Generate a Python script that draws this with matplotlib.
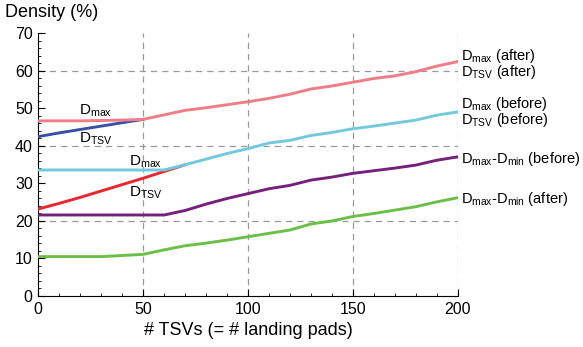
import matplotlib
matplotlib.use("Agg")
import matplotlib.pyplot as plt
from matplotlib.ticker import MultipleLocator

plt.rcParams['font.family'] = ['Liberation Sans', 'DejaVu Sans']
plt.rcParams['mathtext.fontset'] = 'custom'
plt.rcParams['mathtext.rm'] = 'Liberation Sans'
plt.rcParams['mathtext.it'] = 'Liberation Sans'

# number of TSVs
tsvs = [0, 10, 20, 30, 40, 50, 60, 70, 80, 90, 100, 110, 120, 130, 140, 150, 160, 170, 180, 190, 200]

dmax_after = [46.7, 46.7, 46.7, 46.8, 46.9, 47.1, 48.3, 49.5, 50.2, 51.0, 51.8,
              52.7, 53.8, 55.2, 56.0, 57.0, 58.0, 58.7, 59.8, 61.3, 62.5]
dtsv_after_x = [0, 10, 20, 30, 40, 50]
dtsv_after = [42.5, 43.5, 44.4, 45.3, 46.2, 47.1]

dmax_before = [33.6, 33.6, 33.6, 33.6, 33.6, 33.6, 33.6, 35.0, 36.5, 38.0, 39.3,
               40.8, 41.5, 42.8, 43.6, 44.6, 45.3, 46.1, 46.9, 48.2, 49.1]
dtsv_before_x = [0, 10, 20, 30, 40, 50, 60, 70]
dtsv_before = [23.2, 24.7, 26.3, 28.0, 29.7, 31.4, 33.2, 35.0]

spread_before = [21.6, 21.6, 21.6, 21.6, 21.6, 21.6, 21.6, 22.8, 24.5, 26.0, 27.3,
                 28.6, 29.5, 30.9, 31.7, 32.7, 33.4, 34.1, 34.9, 36.2, 37.1]
spread_after = [10.5, 10.5, 10.5, 10.5, 10.8, 11.1, 12.3, 13.4, 14.1, 14.9, 15.8,
                16.7, 17.6, 19.2, 20.0, 21.2, 22.0, 22.9, 23.8, 25.1, 26.2]

fig = plt.figure(figsize=(5.83, 3.47), dpi=100)
ax = fig.add_axes([0.0657, 0.147, 0.7194, 0.7565])

for v in [20, 40, 60]:
    ax.axhline(v, color='#999999', lw=0.9, ls=(0, (5, 4)), zorder=1)
for v in [50, 100, 150, 200]:
    ax.axvline(v, color='#999999', lw=0.9, ls=(0, (5, 4)), zorder=1)

lw = 2.1
ax.plot(dtsv_after_x, dtsv_after, color='#3a50a4', lw=lw, zorder=3)
ax.plot(tsvs, dmax_after, color='#ee7d87', lw=lw, zorder=4)
ax.plot(dtsv_before_x, dtsv_before, color='#e8262b', lw=lw, zorder=3)
ax.plot(tsvs, dmax_before, color='#72c9dc', lw=lw, zorder=4)
ax.plot(tsvs, spread_before, color='#74217c', lw=lw, zorder=3)
ax.plot(tsvs, spread_after, color='#6cbf46', lw=lw, zorder=3)

ax.set_xlim(0, 200)
ax.set_ylim(0, 70)
ax.xaxis.set_major_locator(MultipleLocator(50))
ax.xaxis.set_minor_locator(MultipleLocator(10))
ax.yaxis.set_major_locator(MultipleLocator(10))
ax.yaxis.set_minor_locator(MultipleLocator(2))
ax.tick_params(which='both', direction='in', labelsize=11.5, colors='black')
ax.tick_params(which='major', length=5, width=0.8)
ax.tick_params(which='minor', length=2.5, width=0.6)
ax.tick_params(axis='x', pad=4)
ax.tick_params(axis='y', pad=4)
for s in ['top', 'right']:
    ax.spines[s].set_visible(False)

fs = 11
ax.text(19.4, 48.3, r'$\mathrm{D_{max}}$', fontsize=fs, ha='left', va='baseline')
ax.text(19.4, 40.8, r'$\mathrm{D_{TSV}}$', fontsize=fs, ha='left', va='baseline')
ax.text(43.2, 34.9, r'$\mathrm{D_{max}}$', fontsize=fs, ha='left', va='baseline')
ax.text(43.2, 26.5, r'$\mathrm{D_{TSV}}$', fontsize=fs, ha='left', va='baseline')

rfs = 10.5
rx = 201.6
ax.text(rx, 62.9, r'$\mathrm{D_{max}}$ (after)', fontsize=rfs, va='baseline', clip_on=False)
ax.text(rx, 58.7, r'$\mathrm{D_{TSV}}$ (after)', fontsize=rfs, va='baseline', clip_on=False)
ax.text(rx, 50.05, r'$\mathrm{D_{max}}$ (before)', fontsize=rfs, va='baseline', clip_on=False)
ax.text(rx, 45.8, r'$\mathrm{D_{TSV}}$ (before)', fontsize=rfs, va='baseline', clip_on=False)
ax.text(rx, 35.5, r'$\mathrm{D_{max}}$-$\mathrm{D_{min}}$ (before)', fontsize=rfs, va='baseline', clip_on=False)
ax.text(rx, 24.7, r'$\mathrm{D_{max}}$-$\mathrm{D_{min}}$ (after)', fontsize=rfs, va='baseline', clip_on=False)

fig.text(0.009, 0.963, 'Density (%)', fontsize=13, ha='left', va='center')
ax.set_xlabel('# TSVs (= # landing pads)', fontsize=13, labelpad=4)

fig.savefig('out.png', dpi=100)
